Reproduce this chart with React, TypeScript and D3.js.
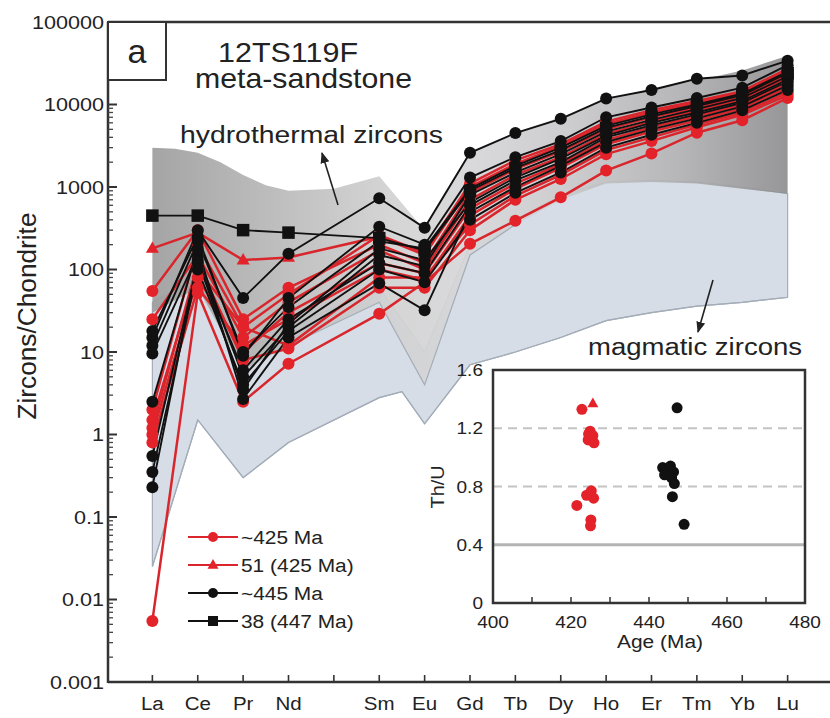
import React from "react";
import * as d3 from "d3";

const W = 830;
const H = 718;

// ---------- data ----------
const REE = ["La", "Ce", "Pr", "Nd", "Sm", "Eu", "Gd", "Tb", "Dy", "Ho", "Er", "Tm", "Yb", "Lu"];
const REE_POS = [0, 1, 2, 3, 5, 6, 7, 8, 9, 10, 11, 12, 13, 14];
const TICK_POS = [0, 1, 2, 3, 4, 5, 6, 7, 8, 9, 10, 11, 12, 13, 14];
const Y_TICKS = [0.001, 0.01, 0.1, 1, 10, 100, 1000, 10000, 100000];
const Y_TICK_LABELS = ["0.001", "0.01", "0.1", "1", "10", "100", "1000", "10000", "100000"];

// ~425 Ma (red, circles)
const red425: number[][] = [
  [2, 200, 20, 50, 260, 160, 1100, 2100, 3300, 6200, 8500, 11000, 14500, 27000],
  [55, 300, 25, 60, 200, 120, 850, 1650, 2700, 5000, 7000, 9200, 12500, 23000],
  [25, 150, 15, 40, 170, 100, 700, 1400, 2300, 4400, 6200, 8400, 11500, 21000],
  [1, 80, 10, 30, 120, 90, 550, 1100, 1900, 3700, 5300, 7200, 10000, 18000],
  [0.8, 60, 12, 25, 100, 75, 450, 950, 1700, 3300, 4700, 6400, 9000, 16000],
  [1.5, 100, 20, 12, 80, 80, 350, 780, 1400, 2800, 4000, 5700, 8000, 14000],
  [1.2, 120, 8, 11, 60, 60, 300, 700, 1250, 2500, 3600, 5300, 7500, 13000],
  [0.0055, 52, 2.5, 7.2, 29, 70, 205, 390, 750, 1580, 2550, 4550, 6450, 12000],
];
// spot 51 (425 Ma) red triangles
const red51 = [180, 280, 130, 140, 250, 150, 1000, 1900, 3100, 5800, 8000, 10500, 14000, 26000];
// ~445 Ma (black, circles)
const black445: number[][] = [
  [15, 300, 45, 155, 730, 320, 2600, 4500, 6700, 11800, 15000, 20500, 22500, 34000],
  [18, 250, 9, 45, 330, 200, 1300, 2300, 3600, 7000, 9200, 12000, 16000, 30000],
  [12, 220, 10, 35, 220, 180, 950, 1800, 3000, 5500, 7600, 10000, 13500, 25000],
  [9.6, 150, 5, 20, 150, 110, 800, 1500, 2500, 4700, 6500, 8800, 12000, 22000],
  [0.23, 130, 3.5, 22, 180, 130, 650, 1300, 2200, 4200, 6000, 8000, 11000, 20000],
  [0.55, 120, 6, 25, 120, 90, 600, 1200, 2000, 4000, 5600, 7600, 10500, 19000],
  [2.5, 180, 2.7, 15, 68, 32, 500, 1000, 1800, 3500, 5000, 6800, 9500, 17000],
  [0.35, 100, 4, 18, 100, 70, 400, 850, 1500, 3000, 4300, 6000, 8500, 15000],
];
// spot 38 (447 Ma) black squares
const black38 = [450, 450, 300, 280, 240, 170, 900, 1700, 2800, 5200, 7200, 9600, 13000, 24000];

// fields: [element position, value]
const HYDRO_UPPER: [number, number][] = [
  [0, 3000], [0.5, 2900], [1, 2600], [1.5, 2000], [2, 1400], [2.5, 1050], [3, 900], [4, 950], [5, 1350],
  [6, 300], [7, 2600], [8, 4600], [9, 7000], [10, 11500], [11, 15500], [12, 19500], [13, 25800], [14, 39000],
];
const HYDRO_LOWER: [number, number][] = [
  [0, 30], [1, 60], [2, 6], [3, 12], [5, 40], [6, 4], [7, 150], [8, 350], [9, 700],
  [10, 1100], [11, 1150], [12, 1100], [13, 950], [14, 830],
];
const MAG_UPPER: [number, number][] = [
  [0, 40], [1, 80], [2, 10], [3, 20], [5, 60], [6, 10], [7, 200], [8, 400], [9, 800],
  [10, 1150], [11, 1200], [12, 1150], [13, 1000], [14, 830],
];
const MAG_LOWER: [number, number][] = [
  [0, 0.025], [1, 1.5], [2, 0.3], [3, 0.8], [5, 2.8], [5.5, 3.3], [6, 1.35], [7, 7], [8, 10],
  [9, 15], [10, 24], [11, 30], [12, 36], [13, 40], [14, 46],
];

// inset Th/U vs age
const INSET_RED_AGE = [422.8, 424.5, 425.3, 425.9, 424.9, 425.6, 424.4, 424.0, 425.2, 425.8, 421.5, 425.1, 425.0];
const INSET_RED_THU = [1.33, 1.16, 1.13, 1.10, 1.18, 1.15, 1.12, 0.74, 0.77, 0.72, 0.67, 0.57, 0.53];
const INSET_TRI = [[425.6, 1.37]];
const INSET_BLACK_AGE = [447.2, 443.5, 444.5, 445.5, 446.3, 444.0, 445.8, 446.5, 446.0, 449.0];
const INSET_BLACK_THU = [1.34, 0.93, 0.92, 0.94, 0.90, 0.88, 0.86, 0.82, 0.73, 0.54];
const INSET_X_TICKS = [400, 420, 440, 460, 480];
const INSET_X_MINOR = [410, 420, 430, 440, 450, 460, 470];
const INSET_Y_TICKS = [0, 0.4, 0.8, 1.2, 1.6];
const INSET_Y_LABELS = ["0", "0.4", "0.8", "1.2", "1.6"];

const LEGEND = ["~425 Ma", "51 (425 Ma)", "~445 Ma", "38 (447 Ma)"];

// ---------- scales ----------
const x = d3.scaleLinear().domain([-1, 15]).range([107, 833]);
const y = d3.scaleLog().domain([0.001, 100000]).range([682, 22]);
const ix = d3.scaleLinear().domain([400, 480]).range([493, 805]);
const iy = d3.scaleLinear().domain([0, 1.6]).range([603, 370]);

const RED = "#e3222a";
const RED_LINE = "#d8262c";
const BLK = "#111111";
const FONT = "'Liberation Sans', Arial, Helvetica, sans-serif";

const seriesLine = d3
  .line<number>()
  .x((_, i) => x(REE_POS[i]))
  .y((d) => y(d));

const poly = (upper: [number, number][], lower: [number, number][]) => {
  const pts = upper.concat(lower.slice().reverse());
  return (
    d3
      .line<[number, number]>()
      .x((d) => x(d[0]))
      .y((d) => y(d[1]))(pts) + "Z"
  );
};
const edge = (pts: [number, number][]) =>
  d3
    .line<[number, number]>()
    .x((d) => x(d[0]))
    .y((d) => y(d[1]))(pts) as string;

function T(props: {
  x: number;
  y: number;
  size: number;
  anchor?: string;
  sx?: number;
  rotate?: number;
  fill?: string;
  len?: number;
  children: React.ReactNode;
}) {
  const { x: tx, y: ty, size, anchor = "start", sx = 1, rotate = 0, fill = "#222", len, children } = props;
  return (
    <text
      transform={`translate(${tx},${ty}) rotate(${rotate}) scale(${sx},1)`}
      fontSize={size}
      textAnchor={anchor as any}
      fontFamily={FONT}
      fill={fill}
      {...(len ? { textLength: len, lengthAdjust: "spacingAndGlyphs" } : {})}
    >
      {children}
    </text>
  );
}

function Circle({ cx, cy, fill, r = 6 }: { cx: number; cy: number; fill: string; r?: number }) {
  return <circle cx={cx} cy={cy} r={r} fill={fill} />;
}
function Square({ cx, cy, s = 12.5 }: { cx: number; cy: number; s?: number }) {
  return <rect x={cx - s / 2} y={cy - s / 2} width={s} height={s} fill={BLK} />;
}
function Tri({ cx, cy, s = 13, fill = RED }: { cx: number; cy: number; s?: number; fill?: string }) {
  const h = s * 0.87;
  return (
    <path
      d={`M${cx},${cy - h * 0.62} L${cx + s / 2},${cy + h * 0.38} L${cx - s / 2},${cy + h * 0.38} Z`}
      fill={fill}
    />
  );
}

export default function App() {
  const minor: number[] = [];
  for (let e = -3; e < 5; e++) for (let k = 2; k <= 9; k++) minor.push(k * Math.pow(10, e));

  const redSeries = red425;
  const blackSeries = black445;

  return (
    <svg
      width={W}
      height={H}
      viewBox={`0 0 ${W} ${H}`}
      style={{ position: "absolute", left: 0, top: 0, background: "#fff" }}
    >
      <defs>
        <linearGradient id="hydro" gradientUnits="userSpaceOnUse" x1={x(0)} y1={0} x2={x(14)} y2={0}>
          <stop offset="0%" stopColor="#9d9d9d" />
          <stop offset="20%" stopColor="#b9b9b9" />
          <stop offset="38%" stopColor="#d2d2d3" />
          <stop offset="50%" stopColor="#d6d6d8" />
          <stop offset="65%" stopColor="#c9c9cb" />
          <stop offset="82%" stopColor="#b2b2b4" />
          <stop offset="100%" stopColor="#8e8e90" />
        </linearGradient>
        <marker id="ah" viewBox="0 0 10 10" refX="9" refY="5" markerWidth="7" markerHeight="7" orient="auto">
          <path d="M0,1 L10,5 L0,9 Z" fill="#222" />
        </marker>
      </defs>

      {/* fields */}
      <path d={poly(MAG_UPPER, MAG_LOWER)} fill="#d6dde6" stroke="#a3adb8" strokeWidth={1.2} />
      <path d={poly(HYDRO_UPPER, HYDRO_LOWER)} fill="url(#hydro)" fillOpacity={0.92} stroke="none" />
      <path d={edge(HYDRO_LOWER.slice(3, 8))} fill="none" stroke="#a4acb6" strokeWidth={1.2} />
      <path d={edge(MAG_LOWER)} fill="none" stroke="#a3adb8" strokeWidth={1.2} />

      {/* axes frame */}
      <line x1={108} x2={W} y1={22} y2={22} stroke="#333" strokeWidth={2.5} />
      <line x1={108} x2={W} y1={682} y2={682} stroke="#333" strokeWidth={2.5} />
      <line x1={108} x2={108} y1={22} y2={683} stroke="#333" strokeWidth={2.5} />

      {/* y ticks */}
      {Y_TICKS.map((v) => (
        <line key={"yt" + v} x1={108} x2={117} y1={y(v)} y2={y(v)} stroke="#333" strokeWidth={2} />
      ))}
      {minor.map((v) => (
        <line key={"ym" + v} x1={108} x2={113} y1={y(v)} y2={y(v)} stroke="#444" strokeWidth={1.3} />
      ))}
      {Y_TICKS.map((v, i) => (
        <T key={"yl" + v} x={104} y={y(v) + 6.5} size={18} anchor="end" sx={1.2}>
          {Y_TICK_LABELS[i]}
        </T>
      ))}
      <T x={36} y={316} size={25} anchor="middle" rotate={-90} len={207}>
        Zircons/Chondrite
      </T>

      {/* x ticks */}
      {TICK_POS.map((p) => (
        <line key={"xt" + p} x1={x(p)} x2={x(p)} y1={682} y2={675} stroke="#333" strokeWidth={1.6} />
      ))}
      {REE.map((e, i) => (
        <T key={"xl" + e} x={x(REE_POS[i])} y={710} size={19} anchor="middle" sx={1.08}>
          {e}
        </T>
      ))}

      {/* data lines */}
      {redSeries.map((s, i) => (
        <path key={"rl" + i} d={seriesLine(s) as string} fill="none" stroke={RED_LINE} strokeWidth={2.5} />
      ))}
      <path d={seriesLine(red51) as string} fill="none" stroke={RED_LINE} strokeWidth={2.5} />
      {blackSeries.map((s, i) => (
        <path key={"bl" + i} d={seriesLine(s) as string} fill="none" stroke={BLK} strokeWidth={1.9} />
      ))}
      <path d={seriesLine(black38) as string} fill="none" stroke={BLK} strokeWidth={1.9} />

      {redSeries.map((s, i) =>
        s.map((v, j) => <Circle key={`rc${i}-${j}`} cx={x(REE_POS[j])} cy={y(v)} fill={RED} />)
      )}
      {red51.map((v, j) => (
        <Tri key={"tr" + j} cx={x(REE_POS[j])} cy={y(v)} />
      ))}
      {blackSeries.map((s, i) =>
        s.map((v, j) => <Circle key={`bc${i}-${j}`} cx={x(REE_POS[j])} cy={y(v)} fill={BLK} />)
      )}
      {black38.map((v, j) => (
        <Square key={"sq" + j} cx={x(REE_POS[j])} cy={y(v)} />
      ))}

      {/* panel label */}
      <rect x={108} y={22} width={58} height={58} fill="#fff" stroke="#333" strokeWidth={2} />
      <T x={137} y={63} size={34} anchor="middle">
        a
      </T>
      <T x={218} y={62} size={28} len={140}>
        12TS119F
      </T>
      <T x={195} y={88} size={28} len={217}>
        meta-sandstone
      </T>

      {/* field labels */}
      <T x={180} y={143} size={23} len={263}>
        hydrothermal zircons
      </T>
      <line x1={338} y1={205} x2={322} y2={153} stroke="#222" strokeWidth={1.6} markerEnd="url(#ah)" />
      <T x={588} y={355} size={23} len={214}>
        magmatic zircons
      </T>
      <line x1={713} y1={280} x2={698} y2={332} stroke="#222" strokeWidth={1.6} markerEnd="url(#ah)" />

      {/* legend */}
      {LEGEND.map((lab, i) => {
        const ly = 537 + i * 28;
        const isRed = i < 2;
        return (
          <g key={"lg" + i}>
            <line x1={188} x2={238} y1={ly} y2={ly} stroke={isRed ? RED_LINE : BLK} strokeWidth={2} />
            {i === 0 && <Circle cx={213} cy={ly} fill={RED} r={5} />}
            {i === 1 && <Tri cx={213} cy={ly} s={11} />}
            {i === 2 && <Circle cx={213} cy={ly} fill={BLK} r={5} />}
            {i === 3 && <Square cx={213} cy={ly} s={10} />}
            <T x={241} y={ly + 7} size={19} sx={1.1}>
              {lab}
            </T>
          </g>
        );
      })}

      {/* inset */}
      <rect x={493} y={370} width={312} height={233} fill="#fff" stroke="none" />
      <line x1={493} x2={805} y1={iy(1.2)} y2={iy(1.2)} stroke="#c4c4c4" strokeWidth={2} strokeDasharray="9,6" />
      <line x1={493} x2={805} y1={iy(0.8)} y2={iy(0.8)} stroke="#c4c4c4" strokeWidth={2} strokeDasharray="9,6" />
      <line x1={493} x2={805} y1={iy(0.4)} y2={iy(0.4)} stroke="#b4b4b4" strokeWidth={3} />
      {INSET_X_MINOR.map((v) => (
        <line key={"ixm" + v} x1={ix(v)} x2={ix(v)} y1={603} y2={597} stroke="#333" strokeWidth={1.5} />
      ))}
      <rect x={493} y={370} width={312} height={233} fill="none" stroke="#333" strokeWidth={2.5} />
      {INSET_X_TICKS.map((v) => (
        <T key={"ixl" + v} x={ix(v)} y={628} size={17} anchor="middle" sx={1.12}>
          {String(v)}
        </T>
      ))}
      {INSET_Y_TICKS.map((v, i) => (
        <T key={"iyl" + v} x={483} y={iy(v) + 6} size={17} anchor="end" sx={1.12}>
          {INSET_Y_LABELS[i]}
        </T>
      ))}
      <T x={660} y={648} size={19} anchor="middle" sx={1.1}>
        Age (Ma)
      </T>
      <T x={444} y={487} size={18} anchor="middle" rotate={-90} sx={1.1}>
        Th/U
      </T>
      {INSET_RED_AGE.map((a, i) => (
        <Circle key={"ir" + i} cx={ix(a)} cy={iy(INSET_RED_THU[i])} fill={RED} r={5.5} />
      ))}
      {INSET_TRI.map((p, i) => (
        <Tri key={"it" + i} cx={ix(p[0])} cy={iy(p[1])} s={11} />
      ))}
      {INSET_BLACK_AGE.map((a, i) => (
        <Circle key={"ib" + i} cx={ix(a)} cy={iy(INSET_BLACK_THU[i])} fill={BLK} r={5.5} />
      ))}
    </svg>
  );
}
